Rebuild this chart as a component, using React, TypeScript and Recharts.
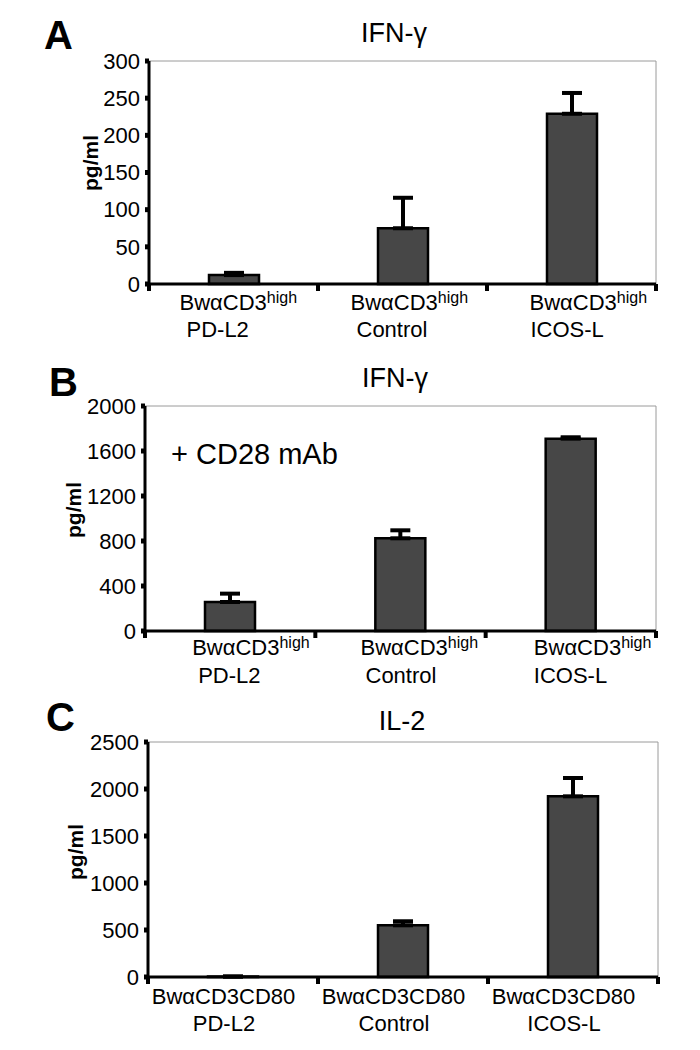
import { BarChart, Bar, XAxis, YAxis, ErrorBar } from "recharts";

const conditions = ["PD-L2", "Control", "ICOS-L"];

// A: IFN-γ, BwαCD3high transfectants
const ifnA = [12, 75, 229];
const ifnAErr = [3, 41, 28];
const ticksA = [0, 50, 100, 150, 200, 250, 300];

// B: IFN-γ with CD28 mAb
const ifnB = [258, 824, 1710];
const ifnBErr = [74, 71, 12];
const ticksB = [0, 400, 800, 1200, 1600, 2000];

// C: IL-2, BwαCD3CD80 transfectants
const il2C = [4, 550, 1922];
const il2CErr = [2, 43, 195];
const ticksC = [0, 500, 1000, 1500, 2000, 2500];

const FONT = "'Liberation Sans', Arial, Helvetica, sans-serif";

const toRows = (vals: number[], errs: number[]) =>
  conditions.map((name, i) => ({ name, value: vals[i], err: [0, errs[i]] }));

type LabelCfg = {
  cd80: boolean;
  dx1: number[];
  dx2: number[];
  dy1: number;
  dy2: number;
};

function CellTick(props: any) {
  const { x, y, payload, index, cfg, band } = props as {
    x: number; y: number; payload: any; index: number; cfg: LabelCfg; band: number;
  };
  const anchor = cfg.cd80 ? "middle" : "start";
  const half = band / 2;
  return (
    <g fontFamily={FONT} fill="#000">
      {/* Excel-style tick marks sit on the category boundaries */}
      <line x1={x - half} x2={x - half} y1={y} y2={y + 7} stroke="#000" strokeWidth={4} />
      {index === conditions.length - 1 && (
        <line x1={x + half} x2={x + half} y1={y} y2={y + 7} stroke="#000" strokeWidth={4} />
      )}
      <text x={x + cfg.dx1[index]} y={y + cfg.dy1} fontSize={22} textAnchor={anchor}>
        {cfg.cd80 ? (
          "BwαCD3CD80"
        ) : (
          <>
            BwαCD3
            <tspan fontSize={16} dy={-7}>
              high
            </tspan>
          </>
        )}
      </text>
      <text x={x + cfg.dx2[index]} y={y + cfg.dy2} fontSize={22} textAnchor={anchor}>
        {payload.value}
      </text>
    </g>
  );
}

type PanelProps = {
  top: number;
  height: number;
  margin: { top: number; right: number; bottom: number; left: number };
  vals: number[];
  errs: number[];
  ticks: number[];
  labels: LabelCfg;
};

// axes need a non-zero size to render, so each is 1px; margins account for that
function Panel({ top, height, margin, vals, errs, ticks, labels }: PanelProps) {
  const data = toRows(vals, errs);
  const max = ticks[ticks.length - 1];
  const band = (700 - margin.left - margin.right - 2) / conditions.length;
  return (
    <div style={{ position: "absolute", left: 0, top, width: 700, height }}>
      <BarChart width={700} height={height} data={data} margin={margin} barCategoryGap={0}>
        <XAxis
          xAxisId="frame"
          orientation="top"
          dataKey="name"
          height={1}
          tick={false}
          tickLine={false}
          axisLine={{ stroke: "#9a9a9a", strokeWidth: 1 }}
        />
        <YAxis
          yAxisId="frame"
          orientation="right"
          width={1}
          domain={[0, max]}
          tick={false}
          tickLine={false}
          axisLine={{ stroke: "#9a9a9a", strokeWidth: 1 }}
        />
        <XAxis
          dataKey="name"
          height={1}
          tickSize={0}
          tickMargin={0}
          tickLine={false}
          axisLine={{ stroke: "#000", strokeWidth: 3 }}
          interval={0}
          tick={(p: any) => <CellTick {...p} cfg={labels} band={band} />}
        />
        <YAxis
          width={1}
          domain={[0, max]}
          ticks={ticks}
          interval={0}
          tickSize={4}
          tickMargin={5}
          axisLine={{ stroke: "#000", strokeWidth: 3 }}
          tickLine={{ stroke: "#000", strokeWidth: 5 }}
          tick={{ fill: "#000", fontSize: 22, fontFamily: FONT }}
        />
        <Bar dataKey="value" fill="#474747" stroke="#000" strokeWidth={2.5} barSize={50} isAnimationActive={false}>
          <ErrorBar dataKey="err" direction="y" width={10} stroke="#000" strokeWidth={4} />
        </Bar>
      </BarChart>
    </div>
  );
}

function Overlay() {
  const letter = { fontFamily: FONT, fontWeight: 900, fontSize: 40, fill: "#000" };
  const title = { fontFamily: FONT, fontSize: 27, fill: "#000", textAnchor: "middle" as const };
  const unit = { fontFamily: FONT, fontWeight: 700, fontSize: 21, fill: "#000", textAnchor: "middle" as const };
  return (
    <svg width={700} height={1050} style={{ position: "absolute", left: 0, top: 0, pointerEvents: "none" }}>
      <text x={44} y={49} {...letter}>A</text>
      <text x={49} y={396} {...letter}>B</text>
      <text x={46} y={731} {...letter}>C</text>

      <text x={394} y={41.5} {...title}>IFN-γ</text>
      <text x={395} y={387} {...title}>IFN-γ</text>
      <text x={402} y={730} {...title}>IL-2</text>

      <text transform="translate(90,163) rotate(-90)" dominantBaseline="central" {...unit}>pg/ml</text>
      <text transform="translate(73,510) rotate(-90)" dominantBaseline="central" {...unit}>pg/ml</text>
      <text transform="translate(75,852) rotate(-90)" dominantBaseline="central" {...unit}>pg/ml</text>

      <text x={171} y={464} fontFamily={FONT} fontSize={29} fill="#000">+ CD28 mAb</text>
    </svg>
  );
}

export default function App() {
  return (
    <div style={{ position: "absolute", left: 0, top: 0, width: 700, height: 1050, background: "#fff" }}>
      <Panel
        top={0}
        height={345}
        margin={{ top: 60, right: 43, bottom: 60, left: 148 }}
        vals={ifnA}
        errs={ifnAErr}
        ticks={ticksA}
        labels={{ cd80: false, dx1: [-54, -52, -42], dx2: [-47, -46, -41], dy1: 26, dy2: 53 }}
      />
      <Panel
        top={345}
        height={345}
        margin={{ top: 60, right: 43, bottom: 58, left: 144 }}
        vals={ifnB}
        errs={ifnBErr}
        ticks={ticksB}
        labels={{ cd80: false, dx1: [-38, -40, -37], dx2: [-32, -35, -37], dy1: 24, dy2: 52 }}
      />
      <Panel
        top={690}
        height={360}
        margin={{ top: 51, right: 41, bottom: 72, left: 147 }}
        vals={il2C}
        errs={il2CErr}
        ticks={ticksC}
        labels={{ cd80: true, dx1: [-9.5, -9.5, -9.5], dx2: [-9, -9, -9], dy1: 26.5, dy2: 54 }}
      />
      <Overlay />
    </div>
  );
}
